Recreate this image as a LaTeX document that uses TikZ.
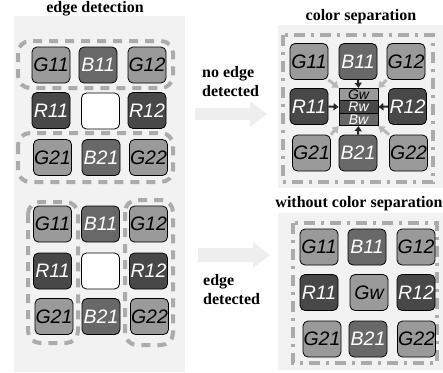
\documentclass[tikz,border=0pt]{standalone}
\usepackage{fontspec}
\setmainfont{Liberation Serif}
\newfontfamily\cellsf{Liberation Sans}
\usepackage{tikz}
\usetikzlibrary{positioning,arrows.meta}
\definecolor{panelgray}{HTML}{F2F2F2}
\definecolor{gfill}{HTML}{9A9A9A}
\definecolor{bfill}{HTML}{686868}
\definecolor{rfill}{HTML}{484848}
\definecolor{dashgray}{HTML}{ABABAB}
\definecolor{blockgray}{HTML}{EEEEEE}

\begin{document}
\begin{tikzpicture}[x=1pt, y=-1pt,
      cell/.style={rectangle, draw=black, line width=0.8pt, rounded corners=5pt,
        minimum width=38pt, minimum height=36pt, inner sep=0pt,
        font=\cellsf\itshape\fontsize{19.5}{19.5}\selectfont},
      gcell/.style={cell, fill=gfill},
      bcell/.style={cell, fill=bfill, text=white},
      rcell/.style={cell, fill=rfill, text=white},
      wcell/.style={cell, fill=white},
      chan/.style={rectangle, draw=black, line width=0.8pt, minimum width=39pt,
        minimum height=12.5pt, inner sep=0pt,
        font=\cellsf\itshape\fontsize{14}{14}\selectfont},
      grp/.style={draw=dashgray, line width=4pt, rounded corners=12pt, dash pattern=on 9pt off 7pt},
      sepbox/.style={draw=dashgray, line width=4pt, dash pattern=on 11pt off 6pt on 3pt off 6pt},
      ttl/.style={font=\bfseries\fontsize{16}{18}\selectfont},
      lbl/.style={font=\bfseries\fontsize{16}{19}\selectfont, align=left, anchor=west, inner sep=0pt},
      darr/.style={-{Triangle[length=5pt,width=7pt]}, line width=2pt, draw=black!85},
      larr/.style={-{Triangle[length=6pt,width=8pt]}, line width=3pt, draw=black!28}
    ]
      \useasboundingbox (0,0) rectangle (443,372);
      \fill[panelgray] (14,16) rectangle (185,372);
      \fill[panelgray] (278,25) rectangle (443,188);
      \fill[panelgray] (278,213) rectangle (443,370);

      \node[ttl] (ttlEdge) at (95,9)   {edge detection};
      \node[ttl] (ttlSep)  at (361,17) {color separation};
      \node[ttl] (ttlNo)   at (359,204) {without color separation};

      \fill[blockgray] (195,108) -- (250,108) -- (250,101) -- (267,114) -- (250,127) -- (250,120) -- (195,120) -- cycle;
      \fill[blockgray] (198,248) -- (253,248) -- (253,242) -- (270,255) -- (253,268) -- (253,262) -- (198,262) -- cycle;
      \node[lbl] (lblNo)  at (202,82)  {no edge\\detected};
      \node[lbl] (lblYes) at (203,290) {edge\\detected};

      % edge detection, horizontal pass
      \draw[grp] (18,41) rectangle (173,88);
      \draw[grp] (18,133) rectangle (173,182);
      \node[gcell] (tG11) at (51,65)     {G11};
      \node[bcell] (tB11) at (98,65)     {B11};
      \node[gcell] (tG12) at (147,65)    {G12};
      \node[rcell] (tR11) at (51,110.5)  {R11};
      \node[wcell] (tW)   at (100.5,111) {};
      \node[rcell] (tR12) at (147,110.5) {R12};
      \node[gcell] (tG21) at (52.5,157.5)  {G21};
      \node[bcell] (tB21) at (101,157.5)   {B21};
      \node[gcell] (tG22) at (148.5,157.5) {G22};

      % edge detection, vertical pass
      \draw[grp] (28,202) rectangle (78,343);
      \draw[grp] (125,200) rectangle (173,345);
      \node[gcell] (bG11) at (52.5,224)  {G11};
      \node[bcell] (bB11) at (100.5,224) {B11};
      \node[gcell] (bG12) at (148.5,224) {G12};
      \node[rcell] (bR11) at (52.5,271)  {R11};
      \node[wcell] (bW)   at (100.5,271) {};
      \node[rcell] (bR12) at (148.5,271) {R12};
      \node[gcell] (bG21) at (54,316.5)  {G21};
      \node[bcell] (bB21) at (101,316.5) {B21};
      \node[gcell] (bG22) at (149.5,316.5) {G22};

      % color separation
      \draw[sepbox] (283,35) rectangle (433,182);
      \node[gcell] (cG11) at (309,61.5)   {G11};
      \node[bcell] (cB11) at (358,61.5)   {B11};
      \node[gcell] (cG12) at (406,61.5)   {G12};
      \node[rcell] (cR11) at (309,106.5)  {R11};
      \node[rcell] (cR12) at (407.5,106.5) {R12};
      \node[gcell] (cG21) at (311.5,153)  {G21};
      \node[bcell] (cB21) at (358,153)    {B21};
      \node[gcell] (cG22) at (408.5,153)  {G22};
      \node[chan, fill=gfill]             (cGw) at (358.5,94.5)  {Gw};
      \node[chan, fill=rfill, text=white] (cRw) at (358.5,107)   {Rw};
      \node[chan, fill=bfill, text=white] (cBw) at (358.5,119.5) {Bw};
      \draw[darr] (cB11.south)--(cGw.north); \draw[darr] (cR11.east)--(cRw.west);
      \draw[darr] (cR12.west)--(cRw.east); \draw[darr] (cB21.north)--(cBw.south);
      \draw[larr] (cG11.south east)--(cGw.north west); \draw[larr] (cG12.south west)--(cGw.north east);
      \draw[larr] (cG21.north east)--(cBw.south west); \draw[larr] (cG22.north west)--(cBw.south east);

      % without color separation
      \draw[sepbox] (293,223) rectangle (437,363);
      \node[gcell] (wG11) at (319,247)   {G11};
      \node[bcell] (wB11) at (367,247)   {B11};
      \node[gcell] (wG12) at (416,247)   {G12};
      \node[rcell] (wR11) at (319,292.5) {R11};
      \node[gcell] (wGw)  at (369,292.5) {Gw};
      \node[rcell] (wR12) at (416,292.5) {R12};
      \node[gcell] (wG21) at (322,339)   {G21};
      \node[bcell] (wB21) at (368,339)   {B21};
      \node[gcell] (wG22) at (416.5,339) {G22};
    \end{tikzpicture}
\end{document}
